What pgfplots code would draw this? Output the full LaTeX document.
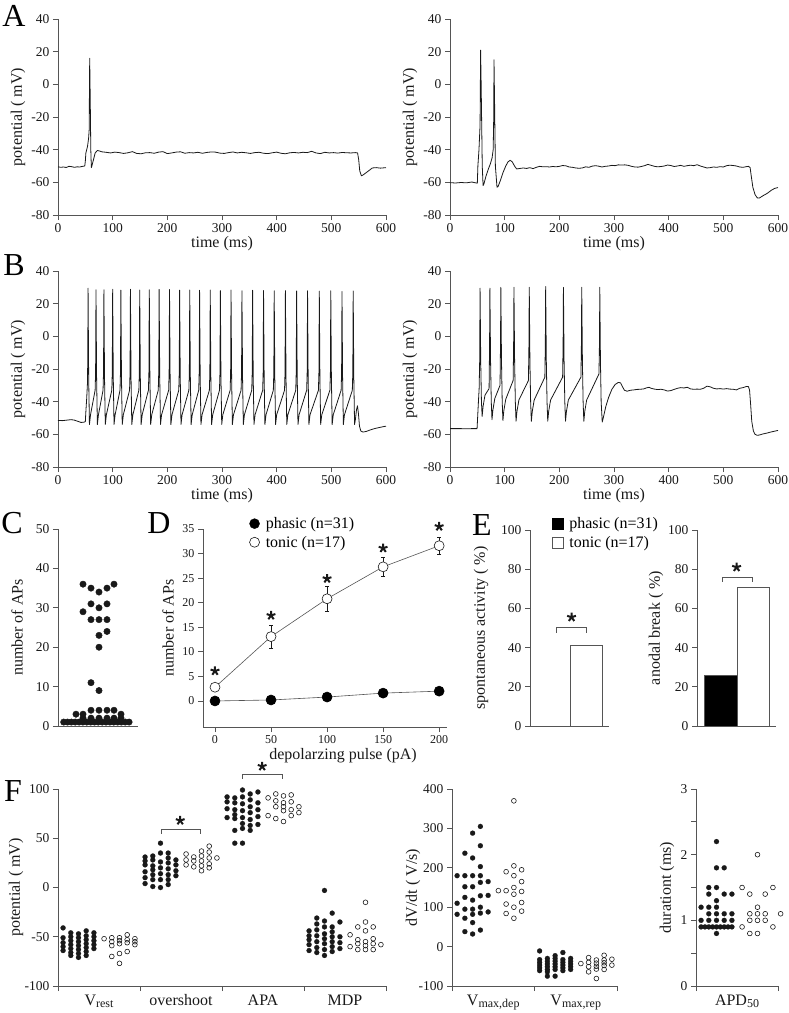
\documentclass[border=0pt]{standalone}
\usepackage{pgfplots}
\pgfplotsset{compat=1.18}
\usepackage{fontspec}
\setmainfont{Liberation Serif}

\definecolor{axgray}{RGB}{85,85,85}
\definecolor{ink}{RGB}{25,25,25}

\newcommand{\tickfont}{\fontsize{13.5}{15}\selectfont}
\newcommand{\labfont}{\fontsize{16}{19}\selectfont}
\newcommand{\panfont}{\fontsize{32}{36}\selectfont}
\newcommand{\sub}[1]{\raisebox{-0.3ex}{\fontsize{12}{12}\selectfont #1}}

\pgfplotsset{
  panel/.style={
    scale only axis, anchor=south west, clip=false,
    axis x line*=bottom, axis y line*=left,
    axis line style={axgray, line width=0.7pt},
    tick style={axgray, line width=0.7pt},
    tick align=outside, major tick length=5pt,
    tick label style={font=\tickfont, text=ink},
    label style={font=\labfont, text=ink},
    /pgf/number format/assume math mode=true,
  },
  ylab/.style={ylabel style={at={(axis description cs:#1,0.5)}, anchor=center}},
  xlab/.style 2 args={xlabel style={at={(axis description cs:#1,#2)}, anchor=center}},
  trace/.style={panel, width=328pt, height=196pt, xmin=0, xmax=600, ymin=-80, ymax=40,
    xtick={0,100,...,600}, ytick={-80,-60,...,40},
    xlabel={time (ms)}, ylabel={potential ( mV)}, ylab=-0.122, xlab={0.5}{-0.148}},
  tr/.style={no markers, ink, line width=0.8pt, line join=round},
  fdot/.style={only marks, mark=*, mark size=2.5pt, mark options={fill=ink, draw=ink, line width=0.2pt}},
  odot/.style={only marks, mark=o, mark size=2.4pt, mark options={draw=ink, line width=0.6pt}},
  sig/.style={only marks, mark=star, mark size=4.6pt, mark options={draw=ink, line width=2pt}},
  brk/.style={axgray, line width=0.7pt, no markers},
}

\begin{document}
\begin{tikzpicture}
\path[use as bounding box] (0pt,0pt) rectangle (789pt,-1013pt);

% ---------------- A: single / double spike responses
\node[font=\panfont] at (14pt,-16pt) {A};
\begin{axis}[trace, at={(58pt,-215pt)}]
\addplot[tr] coordinates {
(0,-50.5) (5,-50.8) (10,-50.6) (15,-50.9) (20,-50.2) (25,-50.4) (30,-50.8) (35,-50.5) (40,-50.6) (45,-50.2) (49,-50.0)
(50,-47) (51,-42) (54,-38) (56,-33) (57,-28) (58,16) (59,-10) (60,-40) (61,-51) (62,-50) (65,-46) (68,-42) (72,-40.5)
(76,-40.8) (80,-41.3) (88,-41.6) (96,-42.0) (104,-41.5) (112,-41.8) (120,-42.3) (128,-41.9) (136,-41.2) (144,-42.3)
(152,-42.5) (160,-41.9) (168,-41.8) (176,-42.2) (184,-41.5) (192,-41.2) (200,-42.4) (208,-42.0) (216,-41.5) (224,-41.3)
(232,-42.2) (240,-41.8) (248,-42.0) (256,-41.6) (264,-42.2) (272,-41.7) (280,-41.4) (288,-41.5) (296,-42.1) (304,-42.3)
(312,-41.8) (320,-41.4) (328,-42.0) (336,-41.6) (344,-41.9) (352,-42.3) (360,-41.8) (368,-41.6) (376,-42.2) (384,-42.4)
(392,-41.9) (400,-41.5) (408,-42.2) (416,-42.5) (424,-41.9) (432,-41.7) (440,-42.0) (448,-41.6) (456,-41.8) (464,-41.0)
(472,-42.0) (480,-42.4) (488,-41.6) (496,-42.0) (504,-41.8) (512,-42.1) (520,-41.7) (528,-41.9) (536,-42.0) (544,-41.8)
(548,-42.0) (550,-46) (552,-53) (555,-56) (558,-55.5) (562,-54.5) (568,-53) (575,-51.2) (582,-51) (590,-51.3) (600,-51)};
\end{axis}

\begin{axis}[trace, at={(450pt,-215pt)}]
\addplot[tr] coordinates {
(0,-60.2) (10,-60.4) (20,-60.1) (30,-60.3) (40,-59.8) (48,-60.4) (50,-60.5) (51,-50) (53,-40) (55,-25) (56,21) (57,0)
(59,-50) (60.5,-62) (62,-61) (66,-56) (70,-52) (74,-48.5) (77,-45) (79,-40) (80,-20) (80.5,15) (81.5,-10) (83,-50)
(86,-63) (88,-62.5) (92,-59) (97,-54) (102,-50) (106,-47.5) (110,-46.5) (114,-47.5) (118,-50) (122,-51.8) (128,-51.5)
(134,-51.2) (140,-51.5) (146,-51.0) (152,-51.6) (158,-50.8) (164,-50.2) (170,-50.5) (176,-50.4) (182,-50.6) (188,-50.3)
(194,-50.5) (200,-50.2) (206,-49.7) (212,-49.9) (218,-50.6) (224,-50.8) (230,-51.2) (236,-51.4) (242,-51.2) (248,-50.5)
(254,-50.8) (260,-50.1) (266,-49.8) (272,-50.1) (278,-50.6) (284,-50.2) (290,-50.0) (296,-49.6) (302,-49.8) (308,-49.3)
(314,-49.4) (320,-49.3) (326,-49.6) (332,-50.2) (338,-50.6) (344,-50.7) (350,-50.3) (356,-49.8) (362,-49.0) (368,-49.6)
(374,-50.2) (380,-50.5) (386,-50.3) (392,-50.0) (398,-49.4) (404,-49.7) (410,-50.3) (416,-50.0) (422,-49.6) (428,-50.2)
(434,-49.8) (440,-49.5) (446,-49.8) (452,-49.2) (458,-50.0) (464,-50.6) (470,-51.2) (476,-51.0) (482,-50.6) (488,-50.8)
(494,-50.4) (500,-50.6) (506,-49.8) (512,-49.5) (518,-49.7) (524,-50.0) (530,-50.6) (536,-50.8) (542,-50.4) (546,-50.2)
(549,-51) (551,-56) (554,-63) (558,-67.5) (562,-69.5) (566,-69.6) (572,-68.3) (580,-66.8) (588,-64.8) (594,-63.7) (600,-63.2)};
\end{axis}

% ---------------- B: repetitive firing
\node[font=\panfont] at (14pt,-265pt) {B};
\begin{axis}[trace, at={(58pt,-467pt)}]
\addplot[tr] coordinates {
(0,-51.5) (8,-51.6) (16,-51.3) (24,-51.0) (30,-51.3) (36,-52.0) (42,-52.7) (47,-52.6) (50,-52.2) (51,-46) (52.5,-38) (54,-28) (54.5,-10)
(55,29.5) (56.1,-25) (57.5,-54) (59.5,-48) (67.9,-33) (68.8,-22)
(69.5,28.5) (70.6,-25) (72,-54) (74,-48) (82.4,-33) (83.3,-22)
(84,28.5) (85.1,-25) (86.5,-54) (88.5,-48) (98.4,-33) (99.3,-22)
(100,28.8) (101.1,-25) (102.5,-54) (104.5,-48) (113.4,-33) (114.3,-22)
(115,28.3) (116.1,-25) (117.5,-54) (119.5,-48) (130.9,-33) (131.8,-22)
(132.5,28.8) (133.6,-25) (135,-54) (137,-48) (147.9,-33) (148.8,-22)
(149.5,28.3) (150.6,-25) (152,-54) (154,-48) (165.4,-33) (166.3,-22)
(167,28.5) (168.1,-25) (169.5,-54) (171.5,-48) (183.4,-33) (184.3,-22)
(185,28.7) (186.1,-25) (187.5,-54) (189.5,-48) (202.4,-33) (203.3,-22)
(204,28.7) (205.1,-25) (206.5,-54) (208.5,-48) (220.9,-33) (221.8,-22)
(222.5,28.3) (223.6,-25) (225,-54) (227,-48) (239.4,-33) (240.3,-22)
(241,28.3) (242.1,-25) (243.5,-54) (245.5,-48) (257.4,-33) (258.3,-22)
(259,28.2) (260.1,-25) (261.5,-54) (263.5,-48) (276.9,-33) (277.8,-22)
(278.5,28.4) (279.6,-25) (281,-54) (283,-48) (295.4,-33) (296.3,-22)
(297,28.0) (298.1,-25) (299.5,-54) (301.5,-48) (314.9,-33) (315.8,-22)
(316.5,28.3) (317.6,-25) (319,-54) (321,-48) (334.9,-33) (335.8,-22)
(336.5,27.9) (337.6,-25) (339,-54) (341,-48) (354.4,-33) (355.3,-22)
(356,28.2) (357.1,-25) (358.5,-54) (360.5,-48) (374.4,-33) (375.3,-22)
(376,28.1) (377.1,-25) (378.5,-54) (380.5,-48) (393.9,-33) (394.8,-22)
(395.5,27.9) (396.6,-25) (398,-54) (400,-48) (414.4,-33) (415.3,-22)
(416,28.0) (417.1,-25) (418.5,-54) (420.5,-48) (434.9,-33) (435.8,-22)
(436.5,27.8) (437.6,-25) (439,-54) (441,-48) (454.9,-33) (455.8,-22)
(456.5,27.9) (457.6,-25) (459,-54) (461,-48) (476.4,-33) (477.3,-22)
(478,27.7) (479.1,-25) (480.5,-54) (482.5,-48) (497.4,-33) (498.3,-22)
(499,27.9) (500.1,-25) (501.5,-54) (503.5,-48) (517.9,-33) (518.8,-22)
(519.5,27.5) (520.6,-25) (522,-54) (524,-48) (538.4,-33) (539.3,-22)
(540,27.8) (541.1,-25) (542.5,-54) (544,-51) (546,-45) (547.8,-42.5) (549.5,-47) (551.5,-55) (554,-58) (558,-58.6)
(564,-58.2) (572,-57.2) (580,-56.4) (588,-55.8) (595,-55.3) (600,-55.0)};
\end{axis}

\begin{axis}[trace, at={(450pt,-467pt)}]
\addplot[tr] coordinates {
(0,-56.5) (10,-56.5) (20,-56.5) (30,-56.6) (40,-56.5) (49.5,-56.5) (50.5,-50) (52,-40) (53.3,-32) (54.3,-15)
(55,29.5) (56.2,-15) (57.5,-40) (58.8,-49) (60.5,-43) (64,-36) (71.5,-32) (72.4,-5)
(73,29.5) (74.2,-15) (75.5,-40) (76.8,-51) (78.5,-45) (82,-38) (91.5,-30) (92.4,-5)
(93,30) (94.2,-15) (95.5,-40) (96.8,-51.5) (98.5,-45.5) (102,-38.5) (115.5,-27) (116.4,-5)
(117,30) (118.2,-15) (119.5,-40) (120.8,-52) (122.5,-46) (126,-39) (143.5,-27) (144.4,-5)
(145,30) (146.2,-15) (147.5,-40) (148.8,-52) (150.5,-46) (154,-39) (173.5,-25) (174.4,-5)
(175,30.5) (176.2,-15) (177.5,-40) (178.8,-52) (180.5,-46) (184,-39) (206,-25) (206.9,-5)
(207.5,30) (208.7,-15) (210,-40) (211.3,-52) (213,-46) (216.5,-39) (239.5,-25) (240.4,-5)
(241,30) (242.2,-15) (243.5,-40) (244.8,-52) (246.5,-46) (250,-39) (272.5,-23) (273.4,-5)
(274,30) (275.2,-15) (276.5,-40) (278.5,-52.5) (281,-49) (285,-43) (290,-37.5) (296,-32.5) (302,-29.5) (308,-28.2)
(312,-28.5) (315,-30.5) (319,-33) (324,-33.6) (330,-33.0) (336,-32.8) (342,-32.5) (348,-32.4) (354,-32.2) (360,-31.5)
(364,-31.2) (368,-31.8) (374,-32.3) (380,-32.6) (386,-32.4) (392,-32.8) (398,-33.5) (404,-33.2) (410,-32.5) (416,-31.8)
(422,-31.4) (428,-31.6) (434,-31.2) (440,-32.2) (446,-32.4) (452,-32.3) (458,-32.4) (464,-31.8) (470,-30.5) (476,-30.9)
(482,-31.8) (488,-32.2) (494,-32.0) (500,-32.3) (506,-32.0) (512,-32.3) (518,-32.4) (524,-32.8) (530,-31.8) (536,-31.4)
(542,-30.7) (546,-30.8) (548,-33) (550,-42) (552,-52) (555,-58) (558,-60) (562,-60.6) (566,-60.4) (572,-59.8) (580,-59.2)
(588,-58.5) (596,-57.9) (600,-57.6)};
\end{axis}

% ---------------- C: number of APs per cell
\node[font=\panfont] at (12pt,-523pt) {C};
\begin{axis}[panel, at={(58pt,-726pt)}, width=80pt, height=197pt,
  xmin=0, xmax=80, ymin=0, ymax=50, xtick=\empty, ytick={0,10,...,50},
  ylabel={number of APs}, ylab=-0.5125]
\addplot[only marks, mark=*, mark size=3.2pt, mark options={fill=ink, draw=ink}] coordinates {
(25,36) (33,35) (41,34) (49,35) (56,36)
(25,29) (33,31) (41,30) (49,31)
(33,27) (41,27) (49,27)
(41,23) (49,24) (41,20) (33,11) (41,9)
(33,4) (41,4) (49,4) (56,4)
(18,3) (25,3) (63,3)
(25,2) (33,2) (41,2) (49,2) (56,2) (63,2)
(5.7,1) (9.5,1) (13.4,1) (17.2,1) (21.1,1) (24.9,1) (28.8,1) (32.6,1) (36.5,1)
(40.3,1) (44.2,1) (48,1) (51.9,1) (55.7,1) (59.6,1) (63.4,1) (67.3,1) (71.1,1)};
\end{axis}

% ---------------- D: input-output relation
\node[font=\panfont] at (159pt,-523pt) {D};
\begin{axis}[panel, at={(203pt,-727pt)}, width=244pt, height=198pt,
  xmin=-10.7, xmax=207, ymin=-5.3, ymax=35, xtick={0,50,...,200}, ytick={0,5,...,35},
  tick label style={font=\fontsize{12}{14}\selectfont},
  xlabel={depolarzing pulse (pA)}, ylabel={number of APs}, ylab=-0.143, xlab={0.574}{-0.147},
  legend style={draw=none, fill=none, at={(axis description cs:0.19,1.07)}, anchor=north west,
    font=\labfont, row sep=2pt, inner sep=0pt},
  legend cell align=left]
\addlegendimage{legend image code/.code={\draw[only marks, mark=*, mark size=5pt, mark options={fill=black, draw=black}] plot coordinates {(0pt,0pt)}; \path (9pt,0pt);}}
\addlegendentry{phasic (n=31)}
\addlegendimage{legend image code/.code={\draw[only marks, mark=*, mark size=5pt, mark options={fill=white, draw=ink, line width=0.6pt}] plot coordinates {(0pt,0pt)}; \path (9pt,0pt);}}
\addlegendentry{tonic (n=17)}
\addplot[forget plot, only marks, mark=none,
  error bars/.cd, y dir=both, y explicit,
  error bar style={ink, line width=0.6pt},
  error mark options={rotate=90, mark size=2pt, ink, line width=0.6pt}]
  coordinates {(0,2.8) +- (0,0.6) (50,13.1) +- (0,2.4) (100,20.8) +- (0,2.55) (150,27.3) +- (0,2.0) (200,31.6) +- (0,1.7)};
\addplot[forget plot, axgray, line width=0.6pt, mark=*, mark size=5pt, mark options={fill=black, draw=black}]
  coordinates {(0,0) (50,0.2) (100,0.8) (150,1.6) (200,2.0)};
\addplot[forget plot, axgray, line width=0.6pt, mark=*, mark size=5pt, mark options={fill=white, draw=ink, line width=0.6pt}]
  coordinates {(0,2.8) (50,13.1) (100,20.8) (150,27.3) (200,31.6)};
\addplot[forget plot, sig] coordinates {(0,6.1) (50,17.4) (100,24.9) (150,31.1) (200,35.5)};
\end{axis}

% ---------------- E: spontaneous activity and anodal break
\node[font=\panfont] at (482pt,-525pt) {E};
\begin{axis}[panel, at={(530pt,-726pt)}, width=78.5pt, height=196pt,
  xmin=-0.71, xmax=1.67, ymin=0, ymax=100, xtick=\empty, ytick={0,20,...,100},
  ylabel={spontaneous activity ( \%)}, ylab=-0.624,
  legend style={draw=none, fill=none, at={(axis description cs:0.275,1.075)}, anchor=north west,
    font=\labfont, row sep=2pt, inner sep=0pt},
  legend cell align=left]
\addlegendimage{legend image code/.code={\draw[fill=black, draw=black] (0pt,-5.5pt) rectangle (11pt,5.5pt); \path (15pt,0pt);}}
\addlegendentry{phasic (n=31)}
\addlegendimage{legend image code/.code={\draw[fill=white, draw=axgray, line width=0.7pt] (0pt,-5.5pt) rectangle (11pt,5.5pt); \path (15pt,0pt);}}
\addlegendentry{tonic (n=17)}
\addplot[forget plot, ybar, bar width=1, bar shift=0pt, fill=black, draw=axgray, line width=0.8pt] coordinates {(0,0)};
\addplot[forget plot, ybar, bar width=1, bar shift=0pt, fill=white, draw=axgray, line width=0.8pt] coordinates {(1,41.2)};
\addplot[forget plot, brk] coordinates {(0.1,47.5) (0.1,50.2) (1.0,50.2) (1.0,47.5)};
\addplot[forget plot, sig] coordinates {(0.55,55.5)};
\end{axis}

\begin{axis}[panel, at={(697pt,-726pt)}, width=78.5pt, height=196pt,
  xmin=-0.71, xmax=1.67, ymin=0, ymax=100, xtick=\empty, ytick={0,20,...,100},
  ylabel={anodal break ( \%)}, ylab=-0.522]
\addplot[ybar, bar width=1, bar shift=0pt, fill=black, draw=axgray, line width=0.8pt] coordinates {(0,25.8)};
\addplot[ybar, bar width=1, bar shift=0pt, fill=white, draw=axgray, line width=0.8pt] coordinates {(1,70.6)};
\addplot[brk] coordinates {(0.05,73.5) (0.05,76) (0.96,76) (0.96,73.5)};
\addplot[sig] coordinates {(0.49,81)};
\end{axis}

% ---------------- F: action potential parameters
\node[font=\panfont] at (13pt,-791pt) {F};
\begin{axis}[panel, at={(58pt,-986pt)}, width=328pt, height=197pt,
  xmin=0, xmax=4, ymin=-100, ymax=100, xtick={0,1,2,3,4}, xticklabels={,,,,},
  ytick={-100,-50,0,50,100}, ylabel={potential ( mV)}, ylab=-0.128,
  extra x ticks={0.5,1.5,2.5,3.5},
  extra x tick labels={V\sub{rest},overshoot,APA,MDP},
  extra x tick style={major tick length=0pt, tick label style={font=\labfont, yshift=-5pt}}]
% phasic cells
\addplot[fdot] coordinates {
(0.062,-41) (0.062,-51) (0.062,-56) (0.062,-60) (0.062,-64)
(0.156,-46) (0.156,-50) (0.156,-54) (0.156,-58) (0.156,-62) (0.156,-66) (0.156,-69)
(0.25,-47) (0.25,-51) (0.25,-55) (0.25,-59) (0.25,-63) (0.25,-67) (0.25,-71)
(0.344,-44) (0.344,-49) (0.344,-53) (0.344,-57) (0.344,-61) (0.344,-65) (0.344,-69)
(0.438,-46) (0.438,-50) (0.438,-54) (0.438,-58) (0.438,-62)
(1.062,31) (1.062,27) (1.062,23) (1.062,16) (1.062,10) (1.062,4)
(1.156,32) (1.156,28) (1.156,22) (1.156,18) (1.156,13) (1.156,8) (1.156,1)
(1.25,45) (1.25,35) (1.25,26) (1.25,20) (1.25,14) (1.25,8) (1.25,0)
(1.344,35) (1.344,30) (1.344,25) (1.344,19) (1.344,13) (1.344,8) (1.344,3)
(1.438,28) (1.438,23) (1.438,17) (1.438,12)
(2.062,92) (2.062,87) (2.062,80) (2.062,71)
(2.156,91) (2.156,86) (2.156,79) (2.156,74) (2.156,70) (2.156,58) (2.156,45)
(2.25,99) (2.25,92) (2.25,85) (2.25,78) (2.25,71) (2.25,65) (2.25,60) (2.25,45)
(2.344,95) (2.344,89) (2.344,82) (2.344,76) (2.344,69) (2.344,63) (2.344,58)
(2.438,97) (2.438,86) (2.438,79) (2.438,72) (2.438,64)
(3.062,-44) (3.062,-49) (3.062,-53) (3.062,-58) (3.062,-64)
(3.156,-31) (3.156,-37) (3.156,-43) (3.156,-49) (3.156,-55) (3.156,-61) (3.156,-66)
(3.25,-3) (3.25,-34) (3.25,-40) (3.25,-47) (3.25,-52) (3.25,-57) (3.25,-63) (3.25,-69)
(3.344,-26) (3.344,-40) (3.344,-45) (3.344,-50) (3.344,-55) (3.344,-60) (3.344,-65)
(3.438,-35) (3.438,-50) (3.438,-56) (3.438,-62)};
% tonic cells
\addplot[odot] coordinates {
(0.562,-52) (0.656,-51) (0.656,-55) (0.656,-59) (0.656,-70)
(0.75,-51) (0.75,-54) (0.75,-57) (0.75,-67) (0.75,-77)
(0.844,-48) (0.844,-53) (0.844,-56) (0.844,-65) (0.938,-52) (0.938,-55) (0.938,-58)
(1.562,34) (1.562,28) (1.562,23) (1.656,31) (1.656,27) (1.656,21)
(1.75,37) (1.75,32) (1.75,27) (1.75,22) (1.75,17)
(1.844,42) (1.844,36) (1.844,30) (1.844,24) (1.844,20) (1.938,30)
(2.562,91) (2.562,73) (2.656,95) (2.656,88) (2.656,82) (2.656,70)
(2.75,93) (2.75,86) (2.75,82) (2.75,78) (2.75,67)
(2.844,94) (2.844,87) (2.844,79) (2.844,73) (2.938,82) (2.938,76)
(3.562,-48) (3.562,-60) (3.656,-40) (3.656,-53) (3.656,-57) (3.656,-63)
(3.75,-15) (3.75,-35) (3.75,-44) (3.75,-55) (3.75,-59) (3.75,-63)
(3.844,-40) (3.844,-52) (3.844,-57) (3.844,-63) (3.938,-58)};
\addplot[brk] coordinates {(1.256,54.6) (1.256,58.6) (1.74,58.6) (1.74,54.6)};
\addplot[brk] coordinates {(2.25,110.6) (2.25,114.6) (2.74,114.6) (2.74,110.6)};
\addplot[sig] coordinates {(1.49,68) (2.49,123)};
\end{axis}

\begin{axis}[panel, at={(452pt,-986pt)}, width=165pt, height=197pt,
  xmin=0, xmax=2, ymin=-100, ymax=400, xtick={0,1,2}, xticklabels={,,},
  ytick={-100,0,...,400}, ylabel={dV/dt ( V/s)}, ylab=-0.236,
  extra x ticks={0.5,1.5},
  extra x tick labels={{V\sub{max,dep}},{V\sub{max,rep}}},
  extra x tick style={major tick length=0pt, tick label style={font=\labfont, yshift=-5pt}}]
\addplot[fdot] coordinates {
(0.062,180) (0.062,110) (0.062,82)
(0.156,237) (0.156,180) (0.156,152) (0.156,125) (0.156,95) (0.156,72) (0.156,38)
(0.25,288) (0.25,225) (0.25,180) (0.25,152) (0.25,118) (0.25,95) (0.25,82) (0.25,61) (0.25,32)
(0.344,305) (0.344,256) (0.344,203) (0.344,180) (0.344,163) (0.344,129) (0.344,100) (0.344,85) (0.344,42)
(0.438,88) (0.438,130) (0.438,165)
(1.062,-11) (1.062,-33) (1.062,-40) (1.062,-47) (1.062,-54) (1.062,-61)
(1.156,-30) (1.156,-37) (1.156,-44) (1.156,-51) (1.156,-58) (1.156,-64) (1.156,-75)
(1.25,-23) (1.25,-30) (1.25,-37) (1.25,-44) (1.25,-51) (1.25,-58) (1.25,-75)
(1.344,-15) (1.344,-33) (1.344,-40) (1.344,-47) (1.344,-54) (1.344,-61)
(1.438,-30) (1.438,-37) (1.438,-44) (1.438,-51) (1.438,-58)};
\addplot[odot] coordinates {
(0.562,142) (0.656,190) (0.656,142) (0.656,108) (0.656,84)
(0.75,370) (0.75,205) (0.75,180) (0.75,150) (0.75,133) (0.75,100) (0.75,72)
(0.844,195) (0.844,165) (0.844,140) (0.844,112) (0.844,90)
(1.562,-43) (1.656,-28) (1.656,-40) (1.656,-51) (1.656,-64)
(1.75,-34) (1.75,-42) (1.75,-50) (1.75,-57) (1.75,-81)
(1.844,-22) (1.844,-34) (1.844,-41) (1.844,-48) (1.844,-58) (1.938,-32) (1.938,-47)};
\end{axis}

\begin{axis}[panel, at={(696pt,-986pt)}, width=82pt, height=197pt,
  xmin=0, xmax=1, ymin=0, ymax=3, xtick={0,1}, xticklabels={,},
  ytick={0,0.5,...,3}, yticklabels={0,,1,,2,,3}, ylabel={durationt (ms)}, ylab=-0.354,
  extra x ticks={0.5}, extra x tick labels={APD\sub{50}},
  extra x tick style={major tick length=0pt, tick label style={font=\labfont, yshift=-5pt}}]
\addplot[fdot] coordinates {
(0.25,2.2) (0.25,1.8) (0.344,1.8) (0.156,1.5) (0.25,1.5)
(0.156,1.4) (0.344,1.4) (0.438,1.4) (0.25,1.3)
(0.062,1.2) (0.156,1.2) (0.25,1.2)
(0.156,1.1) (0.25,1.1) (0.344,1.1) (0.438,1.1)
(0.062,1.0) (0.156,1.0) (0.25,1.0) (0.344,1.0) (0.438,1.0)
(0.062,0.9) (0.109,0.9) (0.156,0.9) (0.203,0.9) (0.25,0.9) (0.297,0.9) (0.344,0.9) (0.391,0.9) (0.438,0.9)
(0.25,0.8)};
\addplot[odot] coordinates {
(0.75,2.0) (0.562,1.5) (0.938,1.5) (0.656,1.4) (0.844,1.4) (0.75,1.2)
(0.656,1.1) (0.75,1.1) (0.844,1.1) (1.032,1.1)
(0.656,1.0) (0.75,1.0) (0.844,1.0)
(0.562,0.9) (0.938,0.9) (0.656,0.8) (0.75,0.8)};
\end{axis}
\end{tikzpicture}
\end{document}
